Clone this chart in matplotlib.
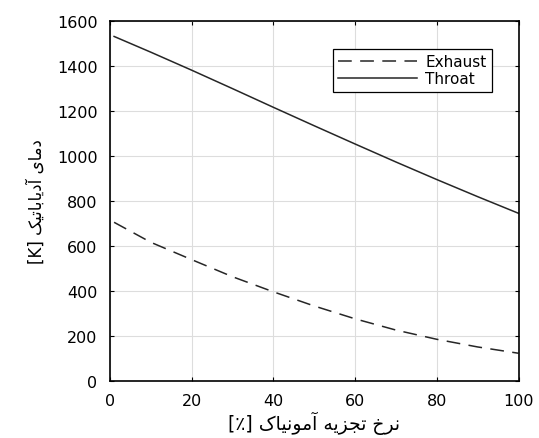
import numpy as np
import matplotlib
matplotlib.use("Agg")
import matplotlib.pyplot as plt

# decomposition rate [%] and adiabatic temperature [K]
rate = [1, 10, 20, 30, 40, 50, 60, 70, 80, 90, 100]
throat = [1530, 1460, 1380, 1298, 1215, 1133, 1052, 972, 894, 818, 744]
exhaust = [704, 615, 538, 462, 395, 332, 275, 225, 184, 150, 122]

xticks = [0, 20, 40, 60, 80, 100]
yticks = [0, 200, 400, 600, 800, 1000, 1200, 1400, 1600]

xlabel_fa = "نرخ تجزیه آمونیاک [٪]"
ylabel_fa = "دمای آدیاباتیک [K]"

# minimal persian shaping (isolated, final, initial, medial)
forms = {
    "ن": ("\uFEE5", "\uFEE6", "\uFEE7", "\uFEE8"),
    "ر": ("\uFEAD", "\uFEAE", None, None),
    "خ": ("\uFEA5", "\uFEA6", "\uFEA7", "\uFEA8"),
    "ت": ("\uFE95", "\uFE96", "\uFE97", "\uFE98"),
    "ج": ("\uFE9D", "\uFE9E", "\uFE9F", "\uFEA0"),
    "ز": ("\uFEAF", "\uFEB0", None, None),
    "ی": ("\uFBFC", "\uFBFD", "\uFBFE", "\uFBFF"),
    "ه": ("\uFEE9", "\uFEEA", "\uFEEB", "\uFEEC"),
    "آ": ("\uFE81", "\uFE82", None, None),
    "م": ("\uFEE1", "\uFEE2", "\uFEE3", "\uFEE4"),
    "و": ("\uFEED", "\uFEEE", None, None),
    "ا": ("\uFE8D", "\uFE8E", None, None),
    "ک": ("\uFB8E", "\uFB8F", "\uFB90", "\uFB91"),
    "د": ("\uFEA9", "\uFEAA", None, None),
    "ب": ("\uFE8F", "\uFE90", "\uFE91", "\uFE92"),
}
mirror = {"[": "]", "]": "["}


def shape(s):
    out = []
    for i, c in enumerate(s):
        if c not in forms:
            out.append(mirror.get(c, c))
            continue
        prev = s[i - 1] if i > 0 else ""
        nxt = s[i + 1] if i + 1 < len(s) else ""
        join_prev = prev in forms and forms[prev][2] is not None
        join_next = nxt in forms and forms[c][2] is not None
        iso, fin, ini, med = forms[c]
        if join_prev and join_next:
            out.append(med)
        elif join_prev:
            out.append(fin)
        elif join_next:
            out.append(ini)
        else:
            out.append(iso)
    return "".join(out[::-1])


plt.rcParams["font.family"] = ["DejaVu Sans"]

fig = plt.figure(figsize=(5.39, 4.39), dpi=100)
ax = fig.add_axes([110 / 539, 1 - 381.7 / 439, 408.5 / 539, 360 / 439])

ax.plot(rate, exhaust, color="#262626", lw=1.1, ls=(0, (9, 5.5)), label="Exhaust")
ax.plot(rate, throat, color="#262626", lw=1.1, label="Throat")

ax.set_xlim(0, 100)
ax.set_ylim(0, 1600)
ax.set_xticks(xticks)
ax.set_yticks(yticks)
ax.grid(True, color="#dddddd", lw=0.8)
ax.tick_params(direction="in", top=True, right=True, length=3, labelsize=11.5)
ax.tick_params(axis="y", pad=9)
ax.tick_params(axis="x", pad=9)
for sp in ax.spines.values():
    sp.set_linewidth(1.2)

ax.set_xlabel(shape(xlabel_fa), fontsize=13.5, labelpad=2)
ax.set_ylabel(shape(ylabel_fa), fontsize=12, labelpad=8)

leg = ax.legend(loc="upper right", bbox_to_anchor=(0.953, 0.943), fontsize=11,
                fancybox=False, framealpha=1, edgecolor="black",
                handlelength=5.2, handletextpad=0.5, borderpad=0.35,
                labelspacing=0.15)
leg.get_frame().set_linewidth(0.9)

fig.savefig("out.png", dpi=100)
